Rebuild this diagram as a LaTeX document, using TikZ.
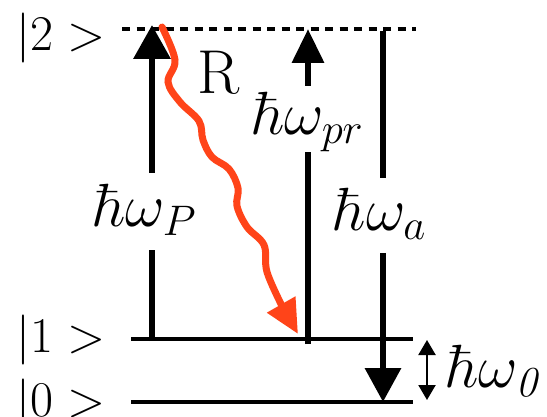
\documentclass[tikz,border=0pt]{standalone}
\usepackage{fix-cm}
\usetikzlibrary{arrows.meta}
\definecolor{photonred}{HTML}{FF4419}
\tikzset{
  level/.style={line width=4pt},
  beam/.style={line width=6.5pt},
  bigtip/.style={-{Triangle[length=34pt,width=#1]}},
  bigtip/.default=34pt,
  ket/.style={inner sep=0pt, font=\fontsize{50}{60}\selectfont},
  lab/.style={inner sep=0pt, font=\fontsize{61}{72}\selectfont},
  photon/.style={photonred, line width=7pt, line cap=round,
    -{Triangle[length=34pt,width=31pt]}},
}
\begin{document}
\begin{tikzpicture}[x=1pt,y=-1pt]
\useasboundingbox (0,0) rectangle (547,417);
% level coordinates
\coordinate (L2a) at (122,29);
\coordinate (L2b) at (416,29);
\coordinate (L1a) at (131,339);
\coordinate (L1b) at (413,339);
\coordinate (L0a) at (131,402);
\coordinate (L0b) at (413,402);
% levels
\draw[line width=4pt, dash pattern=on 8pt off 6.5pt] (L2a) -- (L2b);
\draw[level] (L1a) -- (L1b);
\draw[level] (L0a) -- (L0b);
% kets
\node[ket] (k2) at (61,38) {$|2>$};
\node[ket] (k1) at (61,340) {$|1>$};
\node[ket] (k0) at (61,404) {$|0>$};
% pump arrow
\node[lab] (lp) at (145,210) {$\hbar\omega_P$};
\coordinate (p0) at (152,341);
\coordinate (p1) at (152,250);
\coordinate (p2) at (152,173);
\coordinate (p3) at (152,25);
\draw[beam] (p0) -- (p1);
\draw[beam, bigtip=36pt] (p2) -- (p3);
% probe arrow
\node[lab] (lpr) at (308,122) {$\hbar\omega_{pr}$};
\coordinate (q0) at (308,344);
\coordinate (q1) at (308,152);
\coordinate (q2) at (308,86);
\coordinate (q3) at (308,29);
\draw[beam] (q0) -- (q1);
\draw[beam, bigtip=31pt] (q2) -- (q3);
% down arrow
\node[lab] (la) at (380,214) {$\hbar\omega_a$};
\coordinate (a0) at (383,31);
\coordinate (a1) at (383,178);
\coordinate (a2) at (383,253);
\coordinate (a3) at (383,402);
\draw[beam] (a0) -- (a1);
\draw[beam, bigtip=35pt] (a2) -- (a3);
% splitting
\coordinate (s1) at (427,340);
\coordinate (s0) at (427,400);
\draw[line width=2.2pt, {Triangle[length=15pt,width=17pt]}-{Triangle[length=15pt,width=17pt]}] (s1) -- (s0);
\node[lab] (l0) at (495,371) {$\hbar\omega_{\mathit{0}}$};
% Raman photon
\node[inner sep=0pt, font=\fontsize{62}{72}\selectfont] (R) at (219,73) {R};
\coordinate (rt) at (298,334);
\draw[photon] plot[smooth, tension=0.6] coordinates {(162,27) (175,60) (168,82) (180,102) (199,121) (203,140) (212,157) (229,169) (238,188) (237,206) (247,227) (264,245) (267,272) (282,306)} -- (rt);
\end{tikzpicture}
\end{document}
